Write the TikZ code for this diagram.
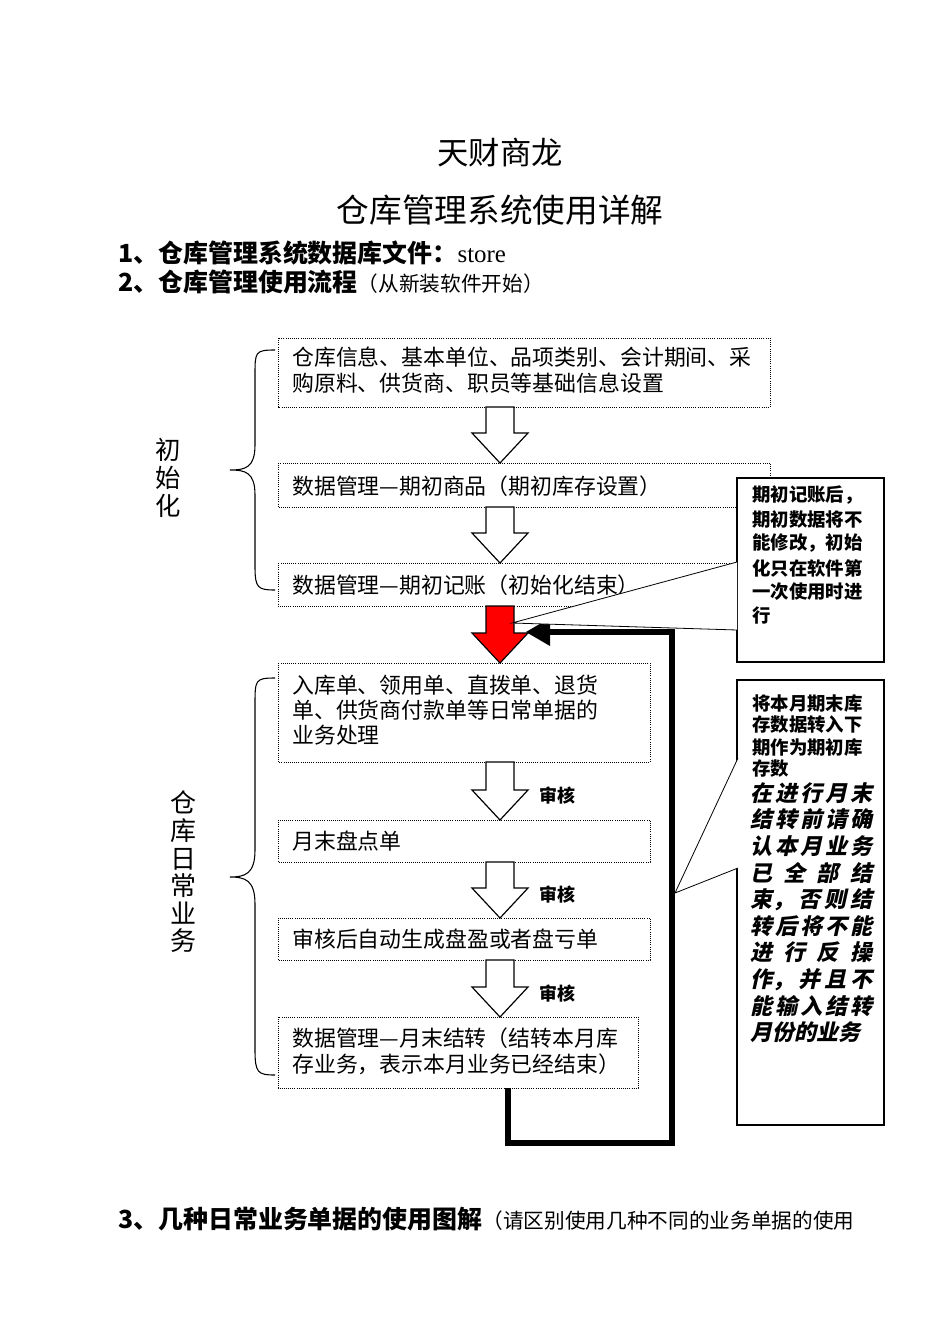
\documentclass[tikz,border=0pt]{standalone}
\usepackage{fontspec}
\setmainfont{Liberation Serif}
\newfontfamily\cjk{Noto Sans CJK SC}
\newfontfamily\cjkit{Noto Sans CJK SC}[FakeSlant=0.22]
\usetikzlibrary{calc}
\newcommand{\hollowarrow}[3][white]{%
  \fill[#1,draw=black,line width=0.9pt] ($(#2)+(-14,0)$) -- ($(#3)+(-14,-30)$) -- ($(#3)+(-28,-30)$) -- (#3) -- ($(#3)+(28,-30)$) -- ($(#3)+(14,-30)$) -- ($(#2)+(14,0)$) -- cycle;}
\newcommand{\jl}[1]{\makebox[91.5pt][s]{#1}}
\begin{document}
\begin{tikzpicture}[x=0.75pt,y=-0.75pt,
  box/.style={draw,densely dotted,line width=0.6pt,fill=white},
  tx/.style={anchor=west,inner sep=0pt,font=\cjk\fontsize{16.4}{18}\selectfont},
  note/.style={draw,line width=0.8pt,fill=white},
  nb/.style={anchor=west,inner sep=0pt,font=\cjk\bfseries\fontsize{13.8}{16}\selectfont},
  ni/.style={anchor=west,inner sep=0pt,font=\cjkit\bfseries\fontsize{16.5}{18}\selectfont},
  big/.style={line width=5pt}]
\useasboundingbox (0,0) rectangle (950,1342);
% titles
\node (t1) at (500,153) {\cjk\fontsize{23.5}{26}\selectfont 天财商龙};
\node (t2) at (500,210) {\cjk\fontsize{24.5}{26}\selectfont 仓库管理系统使用详解};
\node[anchor=west,inner sep=0pt] (h1) at (118,253) {\cjk\bfseries\fontsize{18.7}{20}\selectfont 1、仓库管理系统数据库文件：{\rmfamily\mdseries store}};
\node[anchor=west,inner sep=0pt] (h2) at (118,282) {\cjk\bfseries\fontsize{18.7}{20}\selectfont 2、仓库管理使用流程{\mdseries\fontsize{15.5}{16}\selectfont（从新装软件开始）}};
\node[anchor=west,inner sep=0pt] (h3) at (118,1219) {\cjk\bfseries\fontsize{18.7}{20}\selectfont 3、几种日常业务单据的使用图解{\mdseries\fontsize{15.5}{16}\selectfont（请区别使用几种不同的业务单据的使用}};
% boxes
\draw[box] (278,338) rectangle (770,407); \coordinate (b1s) at (500,407);
\node[tx] (b1a) at (292,357) {仓库信息、基本单位、品项类别、会计期间、采};
\node[tx] (b1b) at (292,383) {购原料、供货商、职员等基础信息设置};
\draw[box] (278,463) rectangle (770,507); \coordinate (b2n) at (500,463); \coordinate (b2s) at (500,507);
\node[tx] (b2) at (292,486) {数据管理—期初商品（期初库存设置）};
\draw[box] (278,563) rectangle (770,606); \coordinate (b3n) at (500,563); \coordinate (b3s) at (500,606);
\node[tx] (b3) at (292,585) {数据管理—期初记账（初始化结束）};
\draw[box] (278,663) rectangle (650,762); \coordinate (b4n) at (500,663); \coordinate (b4s) at (500,762);
\node[tx] (b4a) at (292,685) {入库单、领用单、直拨单、退货};
\node[tx] (b4b) at (292,710) {单、供货商付款单等日常单据的};
\node[tx] (b4c) at (292,735) {业务处理};
\draw[box] (278,820) rectangle (650,862); \coordinate (b5n) at (500,820); \coordinate (b5s) at (500,862);
\node[tx] (b5) at (292,841) {月末盘点单};
\draw[box] (278,918) rectangle (650,960); \coordinate (b6n) at (500,918); \coordinate (b6s) at (500,960);
\node[tx] (b6) at (292,939) {审核后自动生成盘盈或者盘亏单};
\draw[box] (278,1017) rectangle (638,1088); \coordinate (b7n) at (500,1017); \coordinate (b7s) at (508,1088);
\node[tx] (b7a) at (292,1038) {数据管理—月末结转（结转本月库};
\node[tx] (b7b) at (292,1064) {存业务，表示本月业务已经结束）};
% arrows
\hollowarrow{b1s}{b2n}
\hollowarrow{b2s}{b3n}
\hollowarrow[red]{b3s}{b4n}
\hollowarrow{b4s}{b5n}
\hollowarrow{b5s}{b6n}
\hollowarrow{b6s}{b7n}
\node[font=\cjk\bfseries\fontsize{13.5}{15}\selectfont] (s1) at (557,796) {审核};
\node[font=\cjk\bfseries\fontsize{13.5}{15}\selectfont] (s2) at (557,895) {审核};
\node[font=\cjk\bfseries\fontsize{13.5}{15}\selectfont] (s3) at (557,994) {审核};
% loop
\coordinate (lp1) at (508,1143); \coordinate (lp2) at (672,1143); \coordinate (lp3) at (672,632); \coordinate (lp4) at (548,632);
\draw[big] (b7s) -- (lp1) -- (lp2) -- (lp3) -- (lp4);
\coordinate (tip) at (526,632);
\fill (tip) -- (550,618) -- (550,646) -- cycle;
% braces
\draw[line width=0.8pt] (275,350) .. controls (255,350) and (255,352) .. (255,375) -- (255,445) .. controls (255,468) and (245,470) .. (230,470) .. controls (245,470) and (255,472) .. (255,495) -- (255,567) .. controls (255,588) and (258,590) .. (275,590);
\draw[line width=0.8pt] (275,678) .. controls (255,678) and (255,680) .. (255,705) -- (255,850) .. controls (255,874) and (245,877) .. (230,877) .. controls (245,877) and (255,880) .. (255,904) -- (255,1050) .. controls (255,1073) and (258,1075) .. (275,1075);
\node[align=center,font=\cjk\fontsize{19}{21}\selectfont] (l1) at (168,478) {初\\始\\化};
\node[align=center,font=\cjk\fontsize{19.5}{20.7}\selectfont] (l2) at (183,872) {仓\\库\\日\\常\\业\\务};
% callout 1
\draw[note] (737,478) rectangle (884,662);
\coordinate (c1a) at (737,562); \coordinate (c1b) at (737,630); \coordinate (c1p) at (512,623);
\fill[white] (c1a) -- (c1p) -- (c1b) -- cycle;
\draw[line width=0.6pt] (c1a) -- (c1p) -- (c1b);
\node[nb] (n11) at (752,495) {期初记账后，};
\node[nb] (n12) at (752,519) {期初数据将不};
\node[nb] (n13) at (752,543) {能修改，初始};
\node[nb] (n14) at (752,568) {化只在软件第};
\node[nb] (n15) at (752,592) {一次使用时进};
\node[nb] (n16) at (752,616) {行};
% callout 2
\draw[note] (737,680) rectangle (884,1125);
\coordinate (c2a) at (738,758); \coordinate (c2b) at (738,868); \coordinate (c2p) at (675,893);
\fill[white] (c2a) -- (c2p) -- (c2b) -- cycle;
\draw[line width=0.6pt] (c2a) -- (c2p) -- (c2b);
\node[nb] (n21) at (752,703) {将本月期末库};
\node[nb] (n22) at (752,725) {存数据转入下};
\node[nb] (n23) at (752,747) {期作为期初库};
\node[nb] (n24) at (752,769) {存数};
\node[ni] (m1) at (750,793) {\jl{在\hfill 进\hfill 行\hfill 月\hfill 末}};
\node[ni] (m2) at (750,819.6) {\jl{结\hfill 转\hfill 前\hfill 请\hfill 确}};
\node[ni] (m3) at (750,846.2) {\jl{认\hfill 本\hfill 月\hfill 业\hfill 务}};
\node[ni] (m4) at (750,872.8) {\jl{已\hfill 全\hfill 部\hfill 结}};
\node[ni] (m5) at (750,899.4) {\jl{束，\hfill 否\hfill 则\hfill 结}};
\node[ni] (m6) at (750,926) {\jl{转\hfill 后\hfill 将\hfill 不\hfill 能}};
\node[ni] (m7) at (750,952.6) {\jl{进\hfill 行\hfill 反\hfill 操}};
\node[ni] (m8) at (750,979.2) {\jl{作，\hfill 并\hfill 且\hfill 不}};
\node[ni] (m9) at (750,1005.8) {\jl{能\hfill 输\hfill 入\hfill 结\hfill 转}};
\node[ni] (m10) at (750,1032.4) {月份的业务};
\end{tikzpicture}
\end{document}
